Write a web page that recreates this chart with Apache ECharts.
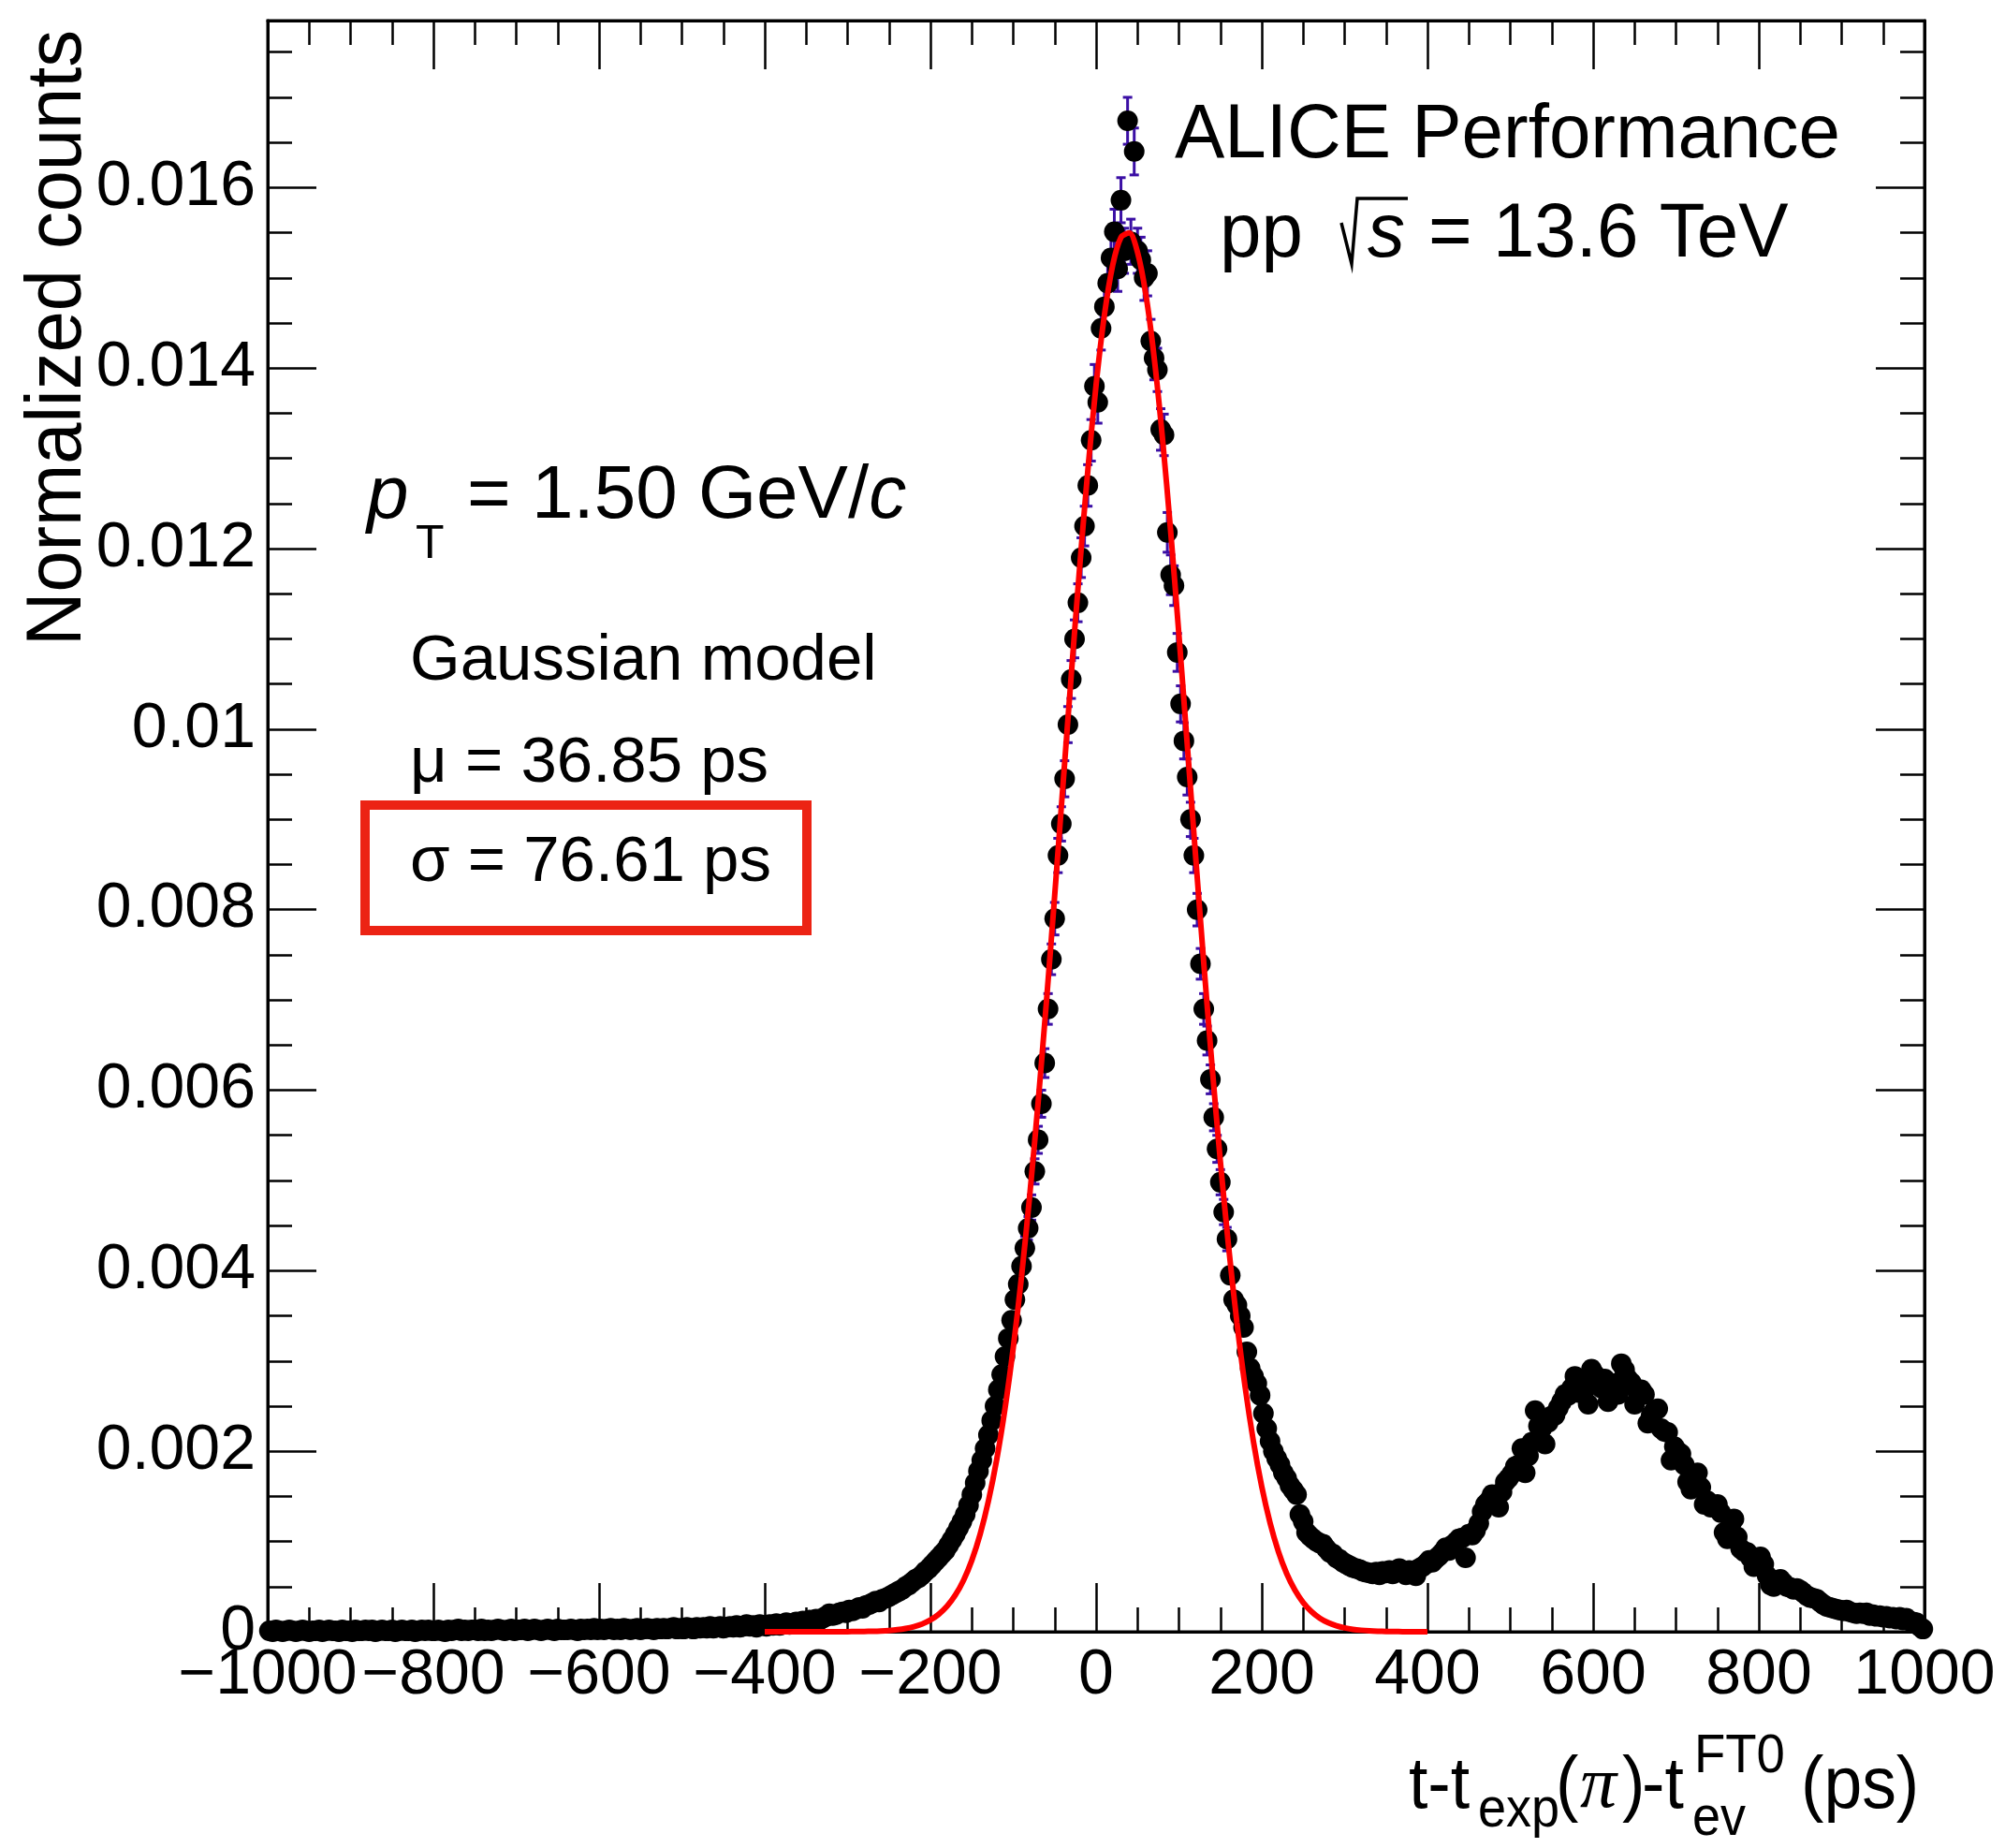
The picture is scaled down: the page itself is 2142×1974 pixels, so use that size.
<!DOCTYPE html>
<html>
<head>
<meta charset="utf-8">
<script src="https://cdn.jsdelivr.net/npm/echarts@6/dist/echarts.min.js"></script>
<style>
html,body{margin:0;padding:0;background:#fff;}
#chart{width:2142px;height:1974px;}
</style>
</head>
<body>
<div id="chart"></div>
<script>
// ---------------- DATA ----------------
// Histogram: 500 bins of 4 ps from -1000 to 1000 ps (normalized counts)
const binLow = -1000;
const binWidth = 4;
const counts = [
 0.00001,0.00000,0.00002,0.00001,0.00000,0.00001,0.00002,0.00001,0.00000,0.00001,
 0.00002,0.00001,0.00000,0.00001,0.00001,0.00002,0.00000,0.00001,0.00002,0.00001,
 0.00001,0.00000,0.00002,0.00001,0.00001,0.00000,0.00002,0.00001,0.00001,0.00002,
 0.00001,0.00002,0.00000,0.00001,0.00002,0.00001,0.00001,0.00002,0.00000,0.00001,
 0.00002,0.00001,0.00001,0.00002,0.00000,0.00001,0.00002,0.00001,0.00002,0.00001,
 0.00001,0.00002,0.00001,0.00000,0.00002,0.00001,0.00002,0.00003,0.00001,0.00002,
 0.00001,0.00002,0.00002,0.00001,0.00003,0.00001,0.00002,0.00001,0.00002,0.00003,
 0.00002,0.00001,0.00002,0.00003,0.00001,0.00002,0.00002,0.00003,0.00001,0.00002,
 0.00003,0.00002,0.00001,0.00002,0.00003,0.00002,0.00001,0.00003,0.00002,0.00002,
 0.00002,0.00003,0.00002,0.00001,0.00003,0.00002,0.00003,0.00002,0.00004,0.00002,
 0.00003,0.00002,0.00003,0.00004,0.00002,0.00003,0.00002,0.00004,0.00003,0.00002,
 0.00003,0.00004,0.00002,0.00003,0.00004,0.00003,0.00002,0.00004,0.00003,0.00004,
 0.00003,0.00004,0.00005,0.00003,0.00004,0.00003,0.00005,0.00004,0.00003,0.00005,
 0.00004,0.00005,0.00004,0.00006,0.00004,0.00005,0.00006,0.00004,0.00005,0.00006,
 0.00005,0.00007,0.00005,0.00006,0.00008,0.00006,0.00007,0.00005,0.00008,0.00007,
 0.00006,0.00008,0.00007,0.00009,0.00007,0.00008,0.00010,0.00008,0.00009,0.00011,
 0.00010,0.00012,0.00011,0.00013,0.00012,0.00014,0.00013,0.00015,0.00017,0.00020,
 0.00018,0.00019,0.00021,0.00022,0.00021,0.00024,0.00023,0.00025,0.00027,0.00026,
 0.00029,0.00030,0.00032,0.00034,0.00033,0.00036,0.00037,0.00039,0.00041,0.00043,
 0.00045,0.00047,0.00050,0.00052,0.00055,0.00058,0.00060,0.00063,0.00067,0.00070,
 0.00074,0.00078,0.00082,0.00086,0.00090,0.00096,0.00102,0.00108,0.00115,0.00122,
 0.00130,0.00140,0.00152,0.00165,0.00178,0.00190,0.00203,0.00218,0.00234,0.00250,
 0.00268,0.00285,0.00305,0.00325,0.00345,0.00368,0.00385,0.00405,0.00425,0.00447,
 0.00470,0.00510,0.00545,0.00585,0.00630,0.00690,0.00745,0.00790,0.00860,0.00895,
 0.00945,0.01005,0.01055,0.01100,0.01140,0.01190,0.01225,0.01270,0.01320,0.01380,
 0.01362,0.01444,0.01468,0.01494,0.01522,0.01551,0.01510,0.01586,0.01530,0.01674,
 0.01540,0.01640,0.01530,0.01520,0.01500,0.01505,0.01430,0.01411,0.01398,0.01332,
 0.01326,0.01218,0.01171,0.01159,0.01085,0.01028,0.00987,0.00947,0.00900,0.00860,
 0.00800,0.00740,0.00690,0.00655,0.00612,0.00570,0.00535,0.00498,0.00465,0.00435,
 0.00395,0.00368,0.00362,0.00350,0.00337,0.00310,0.00292,0.00283,0.00275,0.00262,
 0.00242,0.00225,0.00211,0.00200,0.00192,0.00185,0.00176,0.00170,0.00162,0.00157,
 0.00152,0.00130,0.00122,0.00110,0.00106,0.00103,0.00100,0.00098,0.00097,0.00092,
 0.00088,0.00086,0.00082,0.00080,0.00077,0.00075,0.00073,0.00071,0.00070,0.00069,
 0.00067,0.00066,0.00065,0.00064,0.00066,0.00063,0.00067,0.00065,0.00068,0.00064,
 0.00066,0.00070,0.00066,0.00063,0.00068,0.00066,0.00062,0.00070,0.00072,0.00075,
 0.00079,0.00077,0.00081,0.00084,0.00088,0.00093,0.00090,0.00096,0.00099,0.00103,
 0.00104,0.00082,0.00108,0.00107,0.00112,0.00120,0.00133,0.00141,0.00145,0.00152,
 0.00148,0.00138,0.00155,0.00166,0.00170,0.00175,0.00183,0.00185,0.00203,0.00176,
 0.00195,0.00210,0.00245,0.00228,0.00225,0.00208,0.00232,0.00239,0.00240,0.00248,
 0.00255,0.00263,0.00262,0.00270,0.00283,0.00265,0.00272,0.00268,0.00252,0.00291,
 0.00285,0.00275,0.00270,0.00280,0.00255,0.00262,0.00275,0.00263,0.00297,0.00290,
 0.00280,0.00276,0.00252,0.00265,0.00268,0.00263,0.00231,0.00240,0.00245,0.00247,
 0.00225,0.00222,0.00221,0.00190,0.00205,0.00200,0.00197,0.00185,0.00166,0.00158,
 0.00168,0.00176,0.00160,0.00141,0.00145,0.00138,0.00140,0.00141,0.00132,0.00110,
 0.00103,0.00118,0.00125,0.00105,0.00092,0.00089,0.00088,0.00082,0.00072,0.00078,
 0.00083,0.00075,0.00062,0.00052,0.00050,0.00055,0.00058,0.00054,0.00050,0.00049,
 0.00047,0.00048,0.00046,0.00043,0.00040,0.00038,0.00037,0.00036,0.00033,0.00030,
 0.00028,0.00027,0.00026,0.00025,0.00024,0.00023,0.00024,0.00022,0.00021,0.00020,
 0.00021,0.00020,0.00021,0.00018,0.00019,0.00017,0.00018,0.00016,0.00017,0.00015,
 0.00016,0.00014,0.00016,0.00013,0.00015,0.00012,0.00011,0.00010,0.00006,0.00003
];

// Statistical errors for the peak bins (bin centres -86 ... 158 ps)
const errStartX = -86;
const errors = [
 0.00013,0.00013,0.00014,0.00014,0.00015,0.00015,0.00016,0.00017,0.00017,0.00018,
 0.00019,0.00019,0.00020,0.00020,0.00021,0.00021,0.00021,0.00022,0.00022,0.00023,
 0.00023,0.00024,0.00023,0.00024,0.00024,0.00025,0.00025,0.00025,0.00025,0.00025,
 0.00025,0.00026,0.00025,0.00026,0.00025,0.00025,0.00025,0.00025,0.00024,0.00024,
 0.00024,0.00023,0.00023,0.00022,0.00022,0.00022,0.00021,0.00020,0.00020,0.00020,
 0.00019,0.00019,0.00018,0.00017,0.00017,0.00016,0.00016,0.00015,0.00015,0.00014,
 0.00014,0.00013
];

// Gaussian model curve (mu = 36.85 ps, sigma = 76.61 ps), read at 10 ps steps from -400 to 400 ps
const fitStartX = -400;
const fitStep = 10;
const fitValues = [
 0,0,0,0,0,0,0.0000001,0.0000002,0.0000003,0.0000006,
 0.0000010,0.0000017,0.0000030,0.0000051,0.0000085,0.0000140,0.0000226,0.0000360,0.0000562,0.0000860,
 0.0001303,0.0001935,0.0002825,0.000405,0.000571,0.000792,0.001080,0.001448,0.001907,0.002471,
 0.003146,0.003938,0.004846,0.005864,0.006976,0.008157,0.009378,0.010599,0.011777,0.012865,
 0.013816,0.014586,0.015139,0.015448,0.015497,0.015283,0.014818,0.014124,0.013235,0.012192,
 0.011043,0.009832,0.008606,0.007406,0.006265,0.005211,0.004261,0.003425,0.002706,0.002103,
 0.001606,0.001206,0.000890,0.000646,0.000461,0.000323,0.000223,0.000151,0.0001007,0.0000660,
 0.0000425,0.0000269,0.0000168,0.0000103,0.0000062,0.0000037,0.0000021,0.0000012,0.0000007,0.0000004,
 0.0000002
];

// Axis ranges / tick labels
const xMin = -1000, xMax = 1000, xStep = 200;
const yMin = 0, yMax = 0.01785, yStep = 0.002, yMinorStep = 0.0005;
const yTickLabels = ['0','0.002','0.004','0.006','0.008','0.01','0.012','0.014','0.016'];

// ---------------- BUILD ----------------
const FONT = '"Liberation Sans", Arial, Helvetica, sans-serif';
const SERIF = '"Liberation Serif", "Times New Roman", serif';

const points = counts.map((v, i) => [binLow + binWidth * (i + 0.5), v]);
const errData = errors.map((e, j) => {
  const x = errStartX + binWidth * j;
  const i = Math.round((x - binLow) / binWidth - 0.5);
  return [x, counts[i], e];
});
const fitData = fitValues.map((v, j) => [fitStartX + fitStep * j, v]);

const measureCtx = document.createElement('canvas').getContext('2d');
function measure(text, font) { measureCtx.font = font; return measureCtx.measureText(text).width; }

function T(text, x, base, size, o) {
  o = o || {};
  const font = (o.it ? 'italic ' : '') + size + 'px ' + (o.fam || FONT);
  return {
    type: 'text', x: x, y: base - 0.347 * size, scaleX: o.sx || 1, z: 100,
    style: { text: text, font: font, fill: '#000', align: 'left', verticalAlign: 'middle',
             textAlign: 'left', textVerticalAlign: 'middle' }
  };
}

const graphics = [];
// Y axis title (rotated)
graphics.push({
  type: 'text', x: 92 - 0.347 * 84, y: 690, rotation: Math.PI / 2, scaleX: 0.946, z: 100,
  style: { text: 'Normalized counts', font: '84px ' + FONT, fill: '#000', align: 'left', verticalAlign: 'middle',
           textAlign: 'left', textVerticalAlign: 'middle' }
});
// ALICE header
graphics.push(T('ALICE Performance', 1255, 174, 82, { sx: 0.975 }));
graphics.push(T('pp', 1303, 280, 82, { sx: 0.975 }));
graphics.push({ type: 'polyline', z: 100,
  shape: { points: [[1433, 238], [1444, 282], [1450, 212], [1504, 212]] },
  style: { stroke: '#000', lineWidth: 3.5, fill: null } });
graphics.push(T('s', 1461, 280, 82, { it: true, sx: 0.975 }));
graphics.push(T('= 13.6 TeV', 1526, 280, 82, { sx: 0.975 }));
// pT line
graphics.push(T('p', 392, 559, 80, { it: true }));
graphics.push(T('T', 444, 600, 50));
const ptMain = '= 1.50 GeV/';
graphics.push(T(ptMain, 499, 559, 80));
graphics.push(T('c', 499 + measure(ptMain, '80px ' + FONT), 559, 80, { it: true }));
// Model text
graphics.push(T('Gaussian model', 438, 731, 69));
graphics.push(T('\u03bc = 36.85 ps', 438, 840, 69));
graphics.push(T('\u03c3 = 76.61 ps', 438, 946, 69));
// Red highlight box
graphics.push({ type: 'rect', z: 90, shape: { x: 390, y: 860, width: 472, height: 134 },
  style: { stroke: '#ec2314', lineWidth: 10, fill: null } });
// X axis title
graphics.push(T('t-t', 1505, 1937, 78, { sx: 0.94 }));
graphics.push(T('exp', 1579, 1955, 60, { sx: 0.9 }));
graphics.push(T('(', 1662, 1937, 78, { sx: 0.94 }));
graphics.push(T('\u03c0', 1688, 1937, 78, { it: true, fam: SERIF }));
graphics.push(T(')', 1733, 1937, 78, { sx: 0.94 }));
graphics.push(T('-t', 1754, 1937, 78, { sx: 0.94 }));
graphics.push(T('FT0', 1810, 1897, 58, { sx: 0.94 }));
graphics.push(T('ev', 1808, 1964, 60, { sx: 0.9 }));
graphics.push(T('(ps)', 1924, 1937, 78, { sx: 0.94 }));

const tickStyle = { color: '#000', width: 2.5 };
function xAxisDef(pos, showLabel) {
  return {
    type: 'value', position: pos, min: xMin, max: xMax, interval: xStep,
    axisLine: { show: true, onZero: false, lineStyle: { color: '#000', width: 3 } },
    axisTick: { show: true, inside: true, length: 52, lineStyle: tickStyle },
    minorTick: { show: true, splitNumber: 4, length: 26, lineStyle: tickStyle },
    splitLine: { show: false }, minorSplitLine: { show: false },
    axisLabel: {
      show: showLabel, margin: 13, fontSize: 68, fontFamily: FONT, color: '#000',
      showMinLabel: true, showMaxLabel: true, hideOverlap: false,
      formatter: v => String(v).replace('-', '\u2212')
    }
  };
}
function yAxisDef(pos, step, len, showLabel, showLine) {
  return {
    type: 'value', position: pos, min: yMin, max: yMax, interval: step,
    axisLine: { show: showLine, onZero: false, lineStyle: { color: '#000', width: 3 } },
    axisTick: { show: true, inside: true, length: len, lineStyle: tickStyle },
    minorTick: { show: false }, splitLine: { show: false },
    axisLabel: {
      show: showLabel, margin: 13, fontSize: 68, fontFamily: FONT, color: '#000',
      showMinLabel: true, showMaxLabel: true, hideOverlap: false,
      formatter: v => {
        const k = Math.round(v / yStep);
        if (Math.abs(v - k * yStep) > 1e-9 || k < 0 || k >= yTickLabels.length) return '';
        return yTickLabels[k];
      }
    }
  };
}

const option = {
  backgroundColor: '#fff',
  animation: false,
  grid: { left: 286, right: 86, top: 22, bottom: 231, show: true, borderColor: '#000', borderWidth: 3,
          backgroundColor: 'transparent', containLabel: false, outerBoundsMode: 'none' },
  xAxis: [xAxisDef('bottom', true), xAxisDef('top', false)],
  yAxis: [
    yAxisDef('left', yStep, 52, true, true),
    yAxisDef('right', yStep, 52, false, true),
    yAxisDef('left', yMinorStep, 26, false, false),
    yAxisDef('right', yMinorStep, 26, false, false)
  ],
  series: [
    {
      type: 'custom', xAxisIndex: 0, yAxisIndex: 0, data: errData, encode: { x: 0, y: 1 },
      z: 3, clip: false, silent: true,
      renderItem: function (params, api) {
        const x = api.value(0), y = api.value(1), e = api.value(2);
        const top = api.coord([x, y + e]);
        const bot = api.coord([x, y - e]);
        const hw = 5;
        const st = { stroke: '#3b0fa5', lineWidth: 3 };
        return { type: 'group', children: [
          { type: 'line', shape: { x1: top[0], y1: top[1], x2: bot[0], y2: bot[1] }, style: st },
          { type: 'line', shape: { x1: top[0] - hw, y1: top[1], x2: top[0] + hw, y2: top[1] }, style: st },
          { type: 'line', shape: { x1: bot[0] - hw, y1: bot[1], x2: bot[0] + hw, y2: bot[1] }, style: st }
        ] };
      }
    },
    {
      type: 'scatter', xAxisIndex: 0, yAxisIndex: 0, data: points, symbol: 'circle', symbolSize: 22,
      itemStyle: { color: '#000', opacity: 1 }, z: 4, clip: false, silent: true, large: false
    },
    {
      type: 'line', xAxisIndex: 0, yAxisIndex: 0, data: fitData, showSymbol: false, symbol: 'none',
      smooth: 0.3, lineStyle: { color: '#ff0000', width: 6 }, z: 5, silent: true
    }
  ],
  graphic: { elements: graphics }
};

const chart = echarts.init(document.getElementById('chart'), null, { renderer: 'canvas', width: 2142, height: 1974 });
chart.setOption(option);
</script>
</body>
</html>
